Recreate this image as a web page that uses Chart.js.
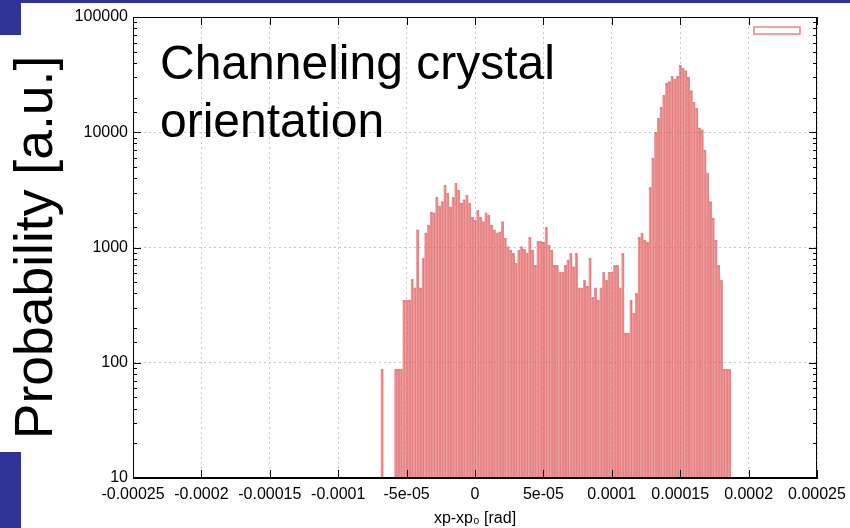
<!DOCTYPE html>
<html>
<head>
<meta charset="utf-8">
<script src="https://cdn.jsdelivr.net/npm/chart.js@4.4.1/dist/chart.umd.min.js"></script>
<style>
  html, body { margin: 0; padding: 0; background: #fff; }
  #wrap { position: relative; width: 850px; height: 528px; overflow: hidden; }
  .band { position: absolute; background: #323399; }
</style>
</head>
<body>
<div id="wrap">
  <canvas id="chart" width="850" height="528"></canvas>
  <div class="band" style="left:0;top:0;width:850px;height:3px"></div>
  <div class="band" style="left:0;top:0;width:21px;height:35px"></div>
  <div class="band" style="left:0;top:452px;width:21px;height:76px"></div>
</div>
<script>
// bin centres in micro-rad (axis shows rad)
const binCenters = [
  -68,
  -58, -56, -54, -52, -50, -48, -46, -44, -42, -40,
  -38, -36, -34, -32, -30, -28, -26, -24, -22, -20,
  -18, -16, -14, -12, -10, -8, -6, -4, -2, 0,
  2, 4, 6, 8, 10, 12, 14, 16, 18, 20,
  22, 24, 26, 28, 30, 32, 34, 36, 38, 40,
  42, 44, 46, 48, 50, 52, 54, 56, 58, 60,
  62, 64, 66, 68, 70, 72, 74, 76, 78, 80,
  82, 84, 86, 88, 90, 92, 94, 96, 98, 100,
  102, 104, 106, 108, 110, 112, 114, 116, 118, 120,
  122, 124, 126, 128, 130, 132, 134, 136, 138, 140,
  142, 144, 146, 148, 150, 152, 154, 156, 158, 160,
  162, 164, 166, 168, 170, 172, 174, 176, 178, 180,
  182, 184, 186
];

const counts = [
  88,
  88, 88, 88, 350, 350, 350, 530, 446, 1420, 446,
  810, 1340, 1570, 2030, 2000, 2740, 2300, 2500, 3480, 2970,
  2250, 2740, 3630, 3150, 2430, 2600, 2850, 2430, 1840, 1730,
  2100, 1840, 1680, 2000, 1900, 1570, 1420, 1340, 1370, 1680,
  1210, 1020, 950, 890, 730, 950, 1020, 970, 890, 1230,
  950, 700, 1130, 1130, 1110, 1500, 1050, 950, 700, 700,
  610, 610, 700, 780, 890, 680, 890, 446, 446, 520,
  460, 810, 370, 446, 350, 446, 610, 520, 610, 616,
  700, 700, 446, 890, 181, 181, 350, 270, 400, 1230,
  1340, 1160, 1110, 3350, 6000, 10000, 13300, 16500, 21000, 26700,
  27500, 30700, 29000, 30700, 38000, 36000, 34300, 30000, 23000, 18200,
  16200, 10900, 10500, 7000, 4430, 2500, 1800, 1160, 700, 520,
  88, 88, 88
];

const xTickLabels = ["-0.00025", "-0.0002", "-0.00015", "-0.0001", "-5e-05", "0",
                     "5e-05", "0.0001", "0.00015", "0.0002", "0.00025"];
const yTickLabels = ["10", "100", "1000", "10000", "100000"];

const xTitle = "xp-xp\u2080 [rad]";
const yTitle = "Probability [a.u.]";
const noteLines = ["Channeling crystal", "orientation"];

const FONT = '"Liberation Sans", Arial, Helvetica, sans-serif';
Chart.defaults.font.family = FONT;
Chart.defaults.color = "#000";

const isDecade = (v) => Math.abs(Math.log10(v) - Math.round(Math.log10(v))) < 1e-6;

// frame, inward tick marks, empty legend key and the note text
const framePlugin = {
  id: "frame",
  afterDatasetsDraw(chart) {
    const { ctx, chartArea: a, scales: { x, y } } = chart;
    ctx.save();
    ctx.strokeStyle = "#000";
    ctx.lineWidth = 1;
    const line = (x1, y1, x2, y2) => {
      ctx.beginPath();
      ctx.moveTo(x1, y1);
      ctx.lineTo(x2, y2);
      ctx.stroke();
    };
    y.ticks.forEach((t) => {
      const py = Math.round(y.getPixelForValue(t.value)) + 0.5;
      const len = isDecade(t.value) ? 8 : 4;
      line(a.left, py, a.left + len, py);
      line(a.right, py, a.right - len, py);
    });
    x.ticks.forEach((t) => {
      const px = Math.round(x.getPixelForValue(t.value)) + 0.5;
      line(px, a.bottom, px, a.bottom - 8);
      line(px, a.top, px, a.top + 8);
    });
    ctx.strokeRect(a.left + 0.5, a.top + 0.5, a.right - a.left - 1, a.bottom - a.top - 1);

    ctx.strokeStyle = "rgb(236,130,130)";
    ctx.lineWidth = 1.5;
    ctx.strokeRect(a.right - 63, a.top + 10, 46, 7);

    ctx.fillStyle = "#000";
    ctx.font = "48px " + FONT;
    ctx.textBaseline = "alphabetic";
    ctx.textAlign = "left";
    ctx.fillText(noteLines[0], a.left + 27, a.top + 62);
    ctx.fillText(noteLines[1], a.left + 27, a.top + 120);
    ctx.restore();
  },
};

new Chart("chart", {
  type: "bar",
  data: {
    datasets: [
      {
        data: binCenters.map((x, i) => ({ x: x, y: counts[i] })),
        backgroundColor: "rgba(232,105,105,0.7)",
        borderColor: "rgba(200,70,75,0.6)",
        borderWidth: { top: 1, right: 1, left: 0, bottom: 0 },
        barPercentage: 1,
        categoryPercentage: 1,
      },
    ],
  },
  options: {
    responsive: false,
    animation: false,
    layout: { padding: { left: 5, right: 33, top: 17, bottom: 0 } },
    plugins: { legend: { display: false }, tooltip: { enabled: false } },
    scales: {
      x: {
        type: "linear",
        min: -250,
        max: 250,
        offset: false,
        ticks: {
          stepSize: 50,
          autoSkip: false,
          maxRotation: 0,
          padding: 7,
          font: { size: 16 },
          callback: (v) => xTickLabels[Math.round((v + 250) / 50)],
        },
        grid: { color: "#c8c8c8", drawTicks: false, offset: false },
        border: { display: true, color: "#000", dash: [2, 3] },
        title: { display: true, text: xTitle, font: { size: 16 }, padding: { top: 0, bottom: 0 } },
        afterFit: (s) => {
          s.height = 50;
          s.paddingLeft = 0;
          s.paddingRight = 0;
        },
      },
      y: {
        type: "logarithmic",
        min: 10,
        max: 100000,
        ticks: {
          autoSkip: false,
          padding: 5,
          font: { size: 16 },
          callback: (v) => (isDecade(v) ? yTickLabels[Math.round(Math.log10(v)) - 1] : ""),
        },
        grid: {
          color: (c) => (c.tick && isDecade(c.tick.value) ? "#c8c8c8" : "rgba(0,0,0,0)"),
          drawTicks: false,
        },
        border: { display: true, color: "#000", dash: [2, 3] },
        title: { display: true, text: yTitle, font: { size: 53.5 }, padding: { top: 0, bottom: 0 } },
        afterFit: (s) => { s.width = 128; },
      },
    },
  },
  plugins: [framePlugin],
});
</script>
</body>
</html>
